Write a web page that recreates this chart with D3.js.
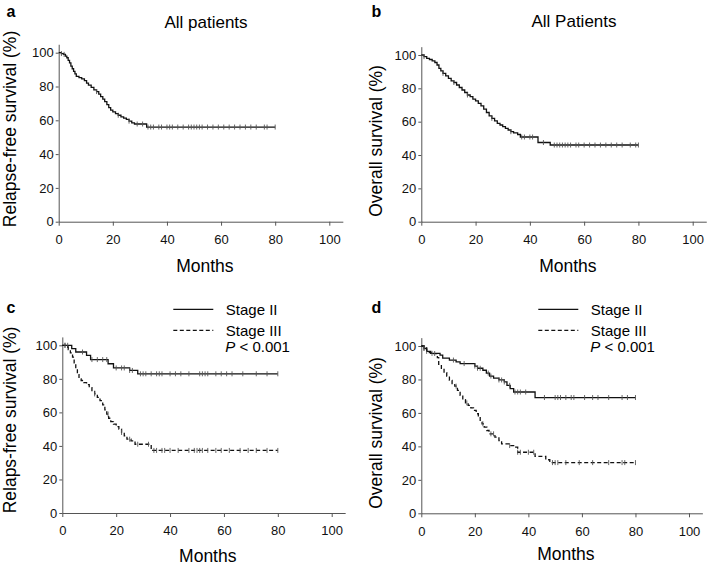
<!DOCTYPE html>
<html>
<head>
<meta charset="utf-8">
<script src="https://cdn.jsdelivr.net/npm/d3@7"></script>
<style>
  body { margin: 0; background: #fff; }
  svg text { font-family: "Liberation Sans", Arial, sans-serif; }
</style>
</head>
<body>
<div id="chart"></div>
<script>
// survival curves: [month, survival %]
var rfsAll = [[0,100],[1,99.5],[1.8,99],[2.5,98],[3,97],[3.5,95.5],[4,94],[4.5,92],[5,90.5],[5.5,89],[6,87.5],[6.5,86],
  [7.5,85.2],[8.5,84.5],[9.5,83.5],[10.3,82],[11,80.8],[12,79.5],[13,78],[14,77],[14.8,75.5],[15.5,74],[16.3,72.5],
  [17,71],[17.8,69.3],[18.5,67.5],[19.2,66],[20,65],[21,64],[22,63],[23,62],[24,61.3],[25,60.5],[26,59.5],[27,58.5],
  [28,57.8],[32.5,56]];
var rfsAllCens = [1,2,14,22,26,29,31,33,34,35,37,38,40,41,42,44,46,48,49,50,51,52,53,55,57,59,61,63,65,67,69,71,73,76,77,80];

var osAll = [[0,100],[1,99],[2,98],[3,97.3],[4,96.5],[5,95.5],[5.8,94],[6.5,92],[7.2,90.5],[8,89],[9,87.5],[10,86],
  [11,84.5],[12,83.5],[13,82],[14,80.5],[15,79],[16,77.5],[17,76],[18,75],[19,73.5],[20,72.5],[21,71],[22,69.5],
  [23,67.5],[24,65.5],[25,63.5],[26,62],[27,60.5],[28,59],[29,58],[30,57],[31,56],[32,55],[33,54],[34,53.3],
  [35.5,52.3],[36.5,50.8],[43,47.5],[47.5,46]];
var osAllCens = [1,8,12,17,26,33,37,38,40,41,45,49,50,51,52,53,54,55,57,58,60,62,64,66,68,70,72,74,77,79,80];

var rfsStage2 = [[0,100],[3.5,98],[5,96],[9,94],[10.5,91.5],[17,89],[19,86.5],[25,85],[28,83]];
var rfsStage2Cens = [1,2,7.5,11,13,15,16.5,20,22,23,25,26,29,30,31,33,35,36,37,40,42,44,47,51,52,53,54,57,59,61,63,67,72,76,80];

var rfsStage3 = [[0,100],[1.5,99],[2.2,97.5],[3,95.5],[3.8,93],[4.4,89.5],[5,86],[5.6,82.5],[6.2,80],[7,79],[8,77.8],
  [9,76.5],[10,74.8],[11,72.5],[12,71],[13,69],[14,67],[15,64.5],[15.8,61.5],[16.5,59],[17.2,56.5],[18,54.5],[19,53],
  [20,51.5],[21,50],[22,48],[23,46],[24,44],[25.5,43],[27,41],[33,37.3]];
var rfsStage3Cens = [1,12,17,22,25,28,32,34,35,37,38,40,43,47,49,50,51,52,54,57,59,62,66,69,72,76,80];

var osStage2 = [[0,100],[1,98.5],[2,96.8],[3.5,95.6],[7,94.5],[8,92.8],[10.5,91.6],[13,90.5],[14.5,89.5],[20,88],
  [21,86.7],[23,85.5],[24.3,83.8],[25.5,82],[27,80.8],[29,79.7],[31,78.5],[32,76.5],[33.2,74.5],[34.5,72.5],[42.5,69.2]];
var osStage2Cens = [1,2,4,12,16,20,21,22,25,26,29,30,31,33,35,36,37,39,46,50,51,52,54,56,57,61,64,66,70,75,77,80];

var osStage3 = [[0,100],[1,98.8],[2,97.5],[3,96],[4,95.5],[6,93],[6.5,89],[7.5,86],[8.5,84],[9.5,82],[10.5,79.5],
  [11.5,77.5],[12.5,76],[13.5,73.5],[14.5,70.5],[15.5,68],[16.5,66],[17.5,64.5],[18.5,63],[19.5,61.5],[20.5,59.5],
  [21.3,57.5],[22,55.5],[22.7,53.5],[23.5,51.5],[24.5,49.5],[25.3,47.5],[27.5,45.5],[29,43.5],[30,41.5],[33,40.5],
  [34.5,39.5],[36,36.5],[42.5,34],[46.5,32],[48,30.3]];
var osStage3Cens = [1,5,13,17,23,26,27,33,36,37,40,42,49,50,51,54,59,64,70,75,76,80];

var xTicks = [0,20,40,60,80,100];
var yTicks = [0,20,40,60,80,100];
var legendLabels = ["Stage II", "Stage III"];

var svg = d3.select("#chart").append("svg")
    .attr("width", 709)
    .attr("height", 565);

// panel placement
var panels = [
  {letter:"a", lx:6.5, ly:16.5, title:"All patients", tx:206, ty:28, ylab:"Relapse-free survival (%)", ylx:16, yly:129,
   x0:58.7, x100:329.3, y0:221.7, y100:52.7, mY:50,
   series:[{data:rfsAll, cens:rfsAllCens, dash:null}]},
  {letter:"b", lx:371.5, ly:16.5, title:"All Patients", tx:574, ty:27, ylab:"Overall survival (%)", ylx:382, yly:141,
   x0:421.3, x100:692.7, y0:221.7, y100:55, mY:50,
   series:[{data:osAll, cens:osAllCens, dash:null}]},
  {letter:"c", lx:6.5, ly:313, ylab:"Relaps-free survival (%)", ylx:16, yly:420, legX:173.3,
   x0:62.3, x100:331.7, y0:513, y100:345.3, mY:48.5,
   series:[{data:rfsStage2, cens:rfsStage2Cens, dash:null}, {data:rfsStage3, cens:rfsStage3Cens, dash:"4,2.5"}]},
  {letter:"d", lx:371.5, ly:313, ylab:"Overall survival (%)", ylx:382, yly:433, legX:538.3,
   x0:421.3, x100:689, y0:513.3, y100:346, mY:47,
   series:[{data:osStage2, cens:osStage2Cens, dash:null}, {data:osStage3, cens:osStage3Cens, dash:"4,2.5"}]}
];

function survAt(data, t) {
  var s = data[0][1];
  data.forEach(function(d) { if (d[0] <= t) s = d[1]; });
  return s;
}

panels.forEach(function(p) {
  var x = d3.scaleLinear().domain([0, 105]).range([p.x0, p.x0 + 1.05 * (p.x100 - p.x0)]);
  var y = d3.scaleLinear().domain([0, 105]).range([p.y0, p.y0 - 1.05 * (p.y0 - p.y100)]);
  var g = svg.append("g");

  // axes
  var xa = g.append("g")
    .attr("transform", "translate(0," + p.y0 + ")")
    .call(d3.axisBottom(x).tickValues(xTicks).tickSize(4).tickSizeOuter(0).tickPadding(9));
  var ya = g.append("g")
    .attr("transform", "translate(" + p.x0 + ",0)")
    .call(d3.axisLeft(y).tickValues(yTicks).tickSize(3).tickSizeOuter(0).tickPadding(2));
  [xa, ya].forEach(function(a) {
    a.selectAll("path, line").attr("stroke", "#555");
    a.selectAll("text").style("font-size", "13px").attr("fill", "#111")
      .style("font-family", "\"Liberation Sans\", Arial, sans-serif");
  });

  // curves
  var line = d3.line().curve(d3.curveStepAfter)
    .x(function(d) { return x(d[0]); })
    .y(function(d) { return y(d[1]); });

  p.series.forEach(function(s) {
    var last = d3.max(s.cens);
    var pts = s.data.concat([[last, s.data[s.data.length - 1][1]]]);
    g.append("path")
      .attr("d", line(pts))
      .attr("fill", "none")
      .attr("stroke", "#111")
      .attr("stroke-width", 1.3)
      .attr("stroke-dasharray", s.dash);
    g.selectAll(null)
      .data(s.cens)
      .enter()
      .append("line")
        .attr("x1", function(t) { return x(t); })
        .attr("x2", function(t) { return x(t); })
        .attr("y1", function(t) { return y(survAt(s.data, t)) - 2.5; })
        .attr("y2", function(t) { return y(survAt(s.data, t)) + 2.5; })
        .attr("stroke", "#555")
        .attr("stroke-width", 0.9);
  });

  // texts
  svg.append("text").attr("x", p.lx).attr("y", p.ly).text(p.letter)
    .style("font-size", "16px").style("font-weight", "bold");
  if (p.title) {
    svg.append("text").attr("x", p.tx).attr("y", p.ty).attr("text-anchor", "middle")
      .text(p.title).style("font-size", "17px");
  }
  svg.append("text")
    .attr("transform", "translate(" + p.ylx + "," + p.yly + ") rotate(-90)")
    .attr("text-anchor", "middle")
    .text(p.ylab).style("font-size", "17.5px");
  svg.append("text").attr("x", x(54)).attr("y", p.y0 + p.mY).attr("text-anchor", "middle")
    .text("Months").style("font-size", "17.5px");

  // legend for stage panels
  if (p.legX) {
    p.series.forEach(function(s, i) {
      var ly = 309.3 + i * 21;
      svg.append("line")
        .attr("x1", p.legX).attr("x2", p.legX + 40)
        .attr("y1", ly).attr("y2", ly)
        .attr("stroke", "#111").attr("stroke-width", 1.3)
        .attr("stroke-dasharray", s.dash);
      svg.append("text").attr("x", p.legX + 52.5).attr("y", ly + 5.7)
        .text(legendLabels[i]).style("font-size", "15px");
    });
    var pt = svg.append("text").attr("x", p.legX + 52).attr("y", 351.7).style("font-size", "15px");
    pt.append("tspan").style("font-style", "italic").text("P");
    pt.append("tspan").text(" < 0.001");
  }
});
</script>
</body>
</html>
